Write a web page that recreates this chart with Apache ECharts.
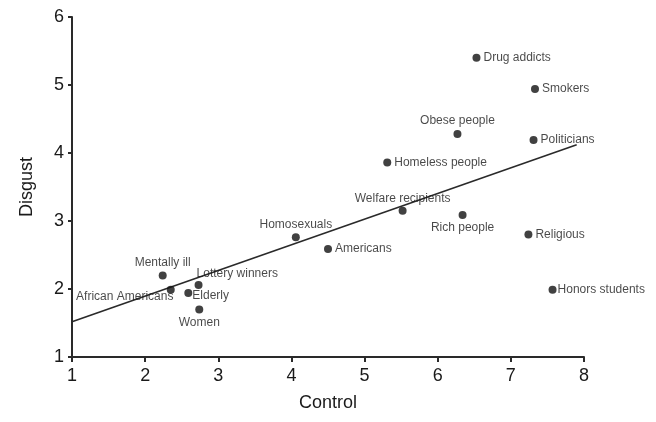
<!DOCTYPE html>
<html>
<head>
<meta charset="utf-8">
<script src="https://cdn.jsdelivr.net/npm/echarts@6/dist/echarts.min.js"></script>
<style>html,body{margin:0;padding:0;background:#fff}#c{width:656px;height:422px}</style>
</head>
<body>
<div id="c"></div>
<script>
var groups = ['Drug addicts','Smokers','Obese people','Politicians','Homeless people','Welfare recipients','Rich people','Religious','Honors students','Homosexuals','Americans','Mentally ill','African Americans','Lottery winners','Elderly','Women'];
var controlValues = [6.53,7.33,6.27,7.31,5.31,5.52,6.34,7.24,7.57,4.06,4.50,2.24,2.35,2.73,2.59,2.74];
var disgustValues = [5.40,4.94,4.28,4.19,3.86,3.15,3.09,2.80,1.99,2.76,2.59,2.20,1.99,2.06,1.94,1.70];
var fitLine = [[1,1.52],[7.9,4.12]];
var xTicks = [1,2,3,4,5,6,7,8];
var yTicks = [1,2,3,4,5,6];

var labelPos = {
  'Obese people': {position:'top', distance:3},
  'Welfare recipients': {position:'top', distance:2},
  'Rich people': {position:'bottom', distance:3},
  'Homosexuals': {position:'top', distance:3},
  'Mentally ill': {position:'top', distance:3},
  'Women': {position:'bottom', distance:3},
  'African Americans': {position:'bottom', offset:[-46,-5], distance:2},
  'Lottery winners': {position:'right', offset:[-8,-11], distance:2},
  'Elderly': {position:'right', offset:[-2,3], distance:2},
  'Honors students': {position:'right', distance:1}
};

var pts = groups.map(function(g,i){
  var lp = labelPos[g] || {position:'right', distance:3};
  return {
    value:[controlValues[i], disgustValues[i]],
    name:g,
    label:Object.assign({show:true, formatter:g}, lp)
  };
});

var chart = echarts.init(document.getElementById('c'), null, {renderer:'canvas'});
var font = 'Liberation Sans, Arial, Helvetica, sans-serif';
chart.setOption({
  animation:false,
  backgroundColor:'#fff',
  grid:{left:72, right:72, top:17, bottom:65, containLabel:false},
  xAxis:{
    type:'value', min:xTicks[0], max:xTicks[xTicks.length-1], interval:1,
    name:'Control', nameLocation:'middle', nameGap:37,
    nameTextStyle:{fontFamily:font, fontSize:18, color:'#1a1a1a'},
    axisLine:{show:true, lineStyle:{color:'#2a2a2a', width:2}},
    axisTick:{show:true, length:5, lineStyle:{color:'#2a2a2a', width:2}},
    axisLabel:{fontFamily:font, fontSize:18, color:'#1a1a1a', margin:10},
    splitLine:{show:false}
  },
  yAxis:{
    type:'value', min:yTicks[0], max:yTicks[yTicks.length-1], interval:1,
    name:'Disgust', nameLocation:'middle', nameGap:36,
    nameTextStyle:{fontFamily:font, fontSize:18, color:'#1a1a1a'},
    axisLine:{show:true, onZero:false, lineStyle:{color:'#2a2a2a', width:2}},
    axisTick:{show:true, length:4, lineStyle:{color:'#2a2a2a', width:2}},
    axisLabel:{fontFamily:font, fontSize:18, color:'#1a1a1a', margin:8},
    splitLine:{show:false}
  },
  series:[
    {
      type:'line', data:fitLine, symbol:'none', silent:true,
      lineStyle:{color:'#2a2a2a', width:1.6}, z:1
    },
    {
      type:'scatter', data:pts, symbolSize:8,
      itemStyle:{color:'#111'},
      label:{fontFamily:font, fontSize:12, color:'#1a1a1a'},
      z:3
    }
  ]
});
</script>
</body>
</html>
